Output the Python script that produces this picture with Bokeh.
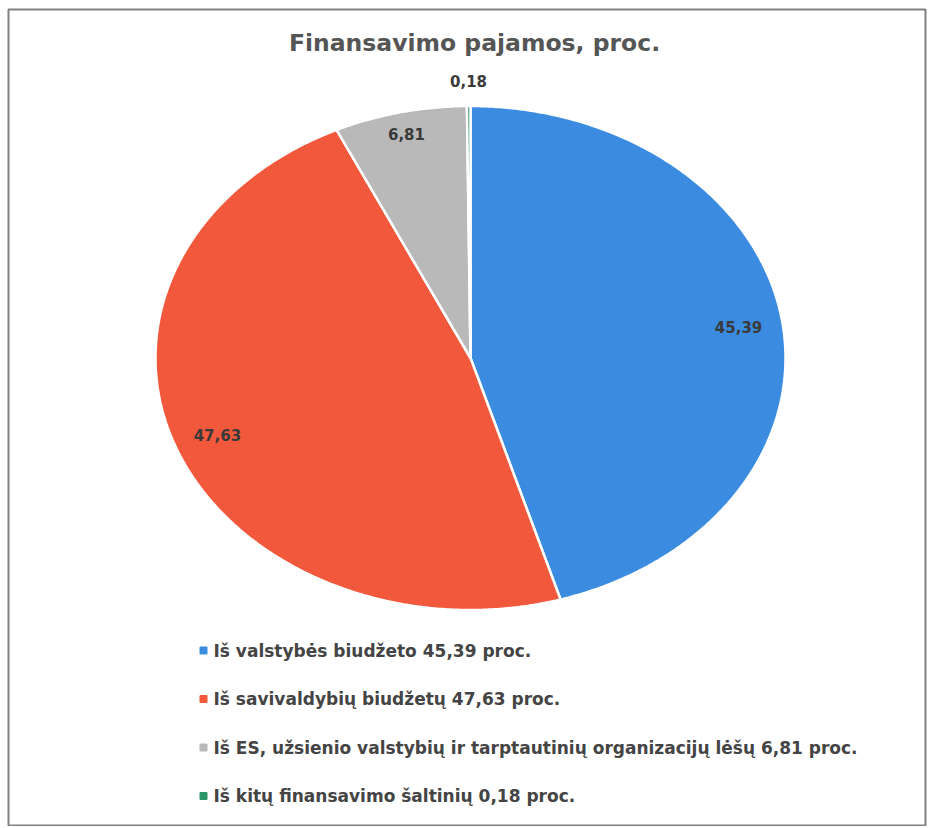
import numpy as np
from bokeh.plotting import figure
from bokeh.models import Range1d, BoxAnnotation
from bokeh.core.properties import value
from bokeh.embed import file_html
from bokeh.resources import INLINE

# ---- data ----
title = "Finansavimo pajamos, proc."
categories = [
    "Iš valstybės biudžeto",
    "Iš savivaldybių biudžetų",
    "Iš ES, užsienio valstybių ir tarptautinių organizacijų lėšų",
    "Iš kitų finansavimo šaltinių",
]
values = [45.39, 47.63, 6.81, 0.18]
colors = ["#3b8ce0", "#f2583c", "#b9b9b9", "#2e9566"]

def fmt(v):
    return f"{v:.2f}".replace(".", ",")

# ---- geometry (page pixel coordinates; y grows downward) ----
W, H = 927, 826
cx, cy = 470, 357.5
rx, ry = 315, 252
FONT = value("DejaVu Sans")

p = figure(width=W, height=H, output_backend="svg", toolbar_location=None,
           x_range=Range1d(0, W), y_range=Range1d(H, 0),
           min_border=0)
p.axis.visible = False
p.grid.visible = False
p.outline_line_color = None
p.background_fill_color = "white"
p.border_fill_color = "white"

# scanned frame
p.add_layout(BoxAnnotation(left=8, right=925, top=9, bottom=825,
                           fill_color=None, fill_alpha=0,
                           line_color="#808080", line_alpha=1, line_width=2))

total = sum(values)
cum = np.cumsum([0] + values) / total * 2 * np.pi
xs, ys = [], []
for i in range(len(values)):
    a0, a1 = cum[i], cum[i + 1]
    t = np.linspace(a0, a1, max(int((a1 - a0) * 120), 3))
    xs.append(list(np.r_[cx, cx + rx * np.sin(t), cx]))
    ys.append(list(np.r_[cy, cy - ry * np.cos(t), cy]))
p.patches(xs, ys, fill_color=colors, line_color="white", line_width=2.5)

# data labels
lx, ly, lt = [], [], []
for i, v in enumerate(values):
    mid = (cum[i] + cum[i + 1]) / 2
    frac = v / total * 100
    r = 0.86 if frac >= 10 else (0.91 if frac >= 1 else 1.1)
    lx.append(cx + rx * r * np.sin(mid))
    ly.append(cy - ry * r * np.cos(mid))
    lt.append(fmt(v))
p.text(lx, ly, text=lt, text_align="center", text_baseline="middle",
       text_font=FONT, text_font_style="bold",
       text_font_size="15px", text_color="#3a3a3a")

# title
p.text([474], [42], text=[title], text_align="center", text_baseline="middle",
       text_font=FONT, text_font_style="bold",
       text_font_size="23.5px", text_color="#555555")

# legend
leg_y = [650 + 48.5 * i for i in range(len(categories))]
leg_text = [f"{c} {fmt(v)} proc." for c, v in zip(categories, values)]
p.scatter([203] * len(categories), leg_y, marker="square", size=7,
          fill_color=colors, line_color=colors)
p.text([213] * len(categories), leg_y, text=leg_text, text_align="left",
       text_baseline="middle", text_font=FONT,
       text_font_style="bold", text_font_size="17px", text_color="#444444")

open("out.html", "w").write(file_html(p, INLINE))
